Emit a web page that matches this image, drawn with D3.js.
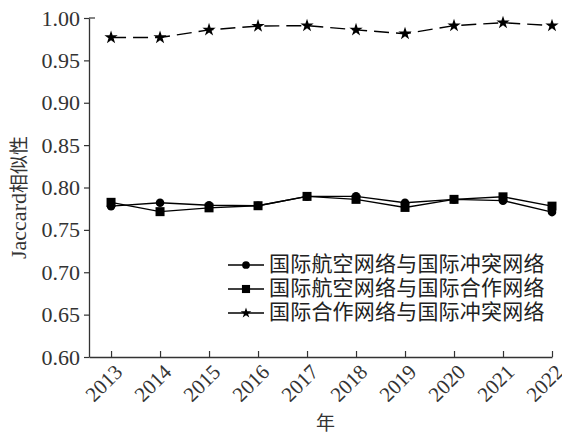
<!DOCTYPE html>
<html>
<head>
<meta charset="utf-8">
<script src="https://cdn.jsdelivr.net/npm/d3@7"></script>
<style>
  body { margin: 0; background: #fff; }
  svg { display: block; }
</style>
</head>
<body>
<svg id="chart" width="562" height="434"></svg>
<script>
// data
const years = [2013, 2014, 2015, 2016, 2017, 2018, 2019, 2020, 2021, 2022];
const airConflict = [0.778, 0.782, 0.779, 0.7785, 0.7895, 0.7895, 0.782, 0.786, 0.7845, 0.771];
const airCoop = [0.7825, 0.7715, 0.776, 0.7785, 0.7895, 0.786, 0.7765, 0.786, 0.789, 0.778];
const coopConflict = [0.977, 0.977, 0.986, 0.9905, 0.991, 0.986, 0.9815, 0.991, 0.9945, 0.991];
const yTicks = [0.60, 0.65, 0.70, 0.75, 0.80, 0.85, 0.90, 0.95, 1.00];
const seriesNames = ["国际航空网络与国际冲突网络", "国际航空网络与国际合作网络", "国际合作网络与国际冲突网络"];

const series = [
  { name: seriesNames[0], values: airConflict, marker: "circle", dash: null },
  { name: seriesNames[1], values: airCoop, marker: "square", dash: null },
  { name: seriesNames[2], values: coopConflict, marker: "star", dash: "15,7" }
];

let svg = d3.select("#chart");
let padding = { top: 18, right: 10, bottom: 77, left: 89 };
let width = +svg.attr("width");
let height = +svg.attr("height");

let xScale = d3.scaleLinear()
                .domain([2012.55, 2022])
                .range([padding.left, 552]);

let yScale = d3.scaleLinear()
                .domain([0.6, 1.0])
                .range([height - padding.bottom, padding.top]);

const serif = "'Liberation Serif', serif";
const cjk = "'Noto Sans CJK SC', sans-serif";

// y axis, ticks pointing out
let yAxis = d3.axisLeft(yScale)
                .tickValues(yTicks)
                .tickFormat(d3.format(".2f"))
                .tickSize(5)
                .tickSizeOuter(0)
                .tickPadding(4);

let gy = svg.append("g")
            .attr("transform", `translate(${padding.left},0)`)
            .call(yAxis)
            .attr("font-family", serif)
            .attr("font-size", 22);

gy.select(".domain").attr("stroke", "#333").attr("stroke-width", 1.3);
gy.selectAll(".tick line").attr("stroke", "#333").attr("stroke-width", 1.2);
gy.selectAll(".tick text")
    .style("font-family", serif)
    .style("font-size", "22px")
    .attr("fill", "#333");

// small stub at top of y axis
svg.append("line")
    .attr("x1", padding.left)
    .attr("x2", padding.left + 6)
    .attr("y1", yScale(1.0))
    .attr("y2", yScale(1.0))
    .attr("stroke", "#333")
    .attr("stroke-width", 1.2);

// x axis, ticks pointing in
let xAxis = d3.axisBottom(xScale)
                .tickValues(years)
                .tickFormat(d3.format("d"))
                .tickSizeInner(-6)
                .tickSizeOuter(0);

let gx = svg.append("g")
            .attr("transform", `translate(0,${height - padding.bottom})`)
            .call(xAxis)
            .attr("font-family", serif)
            .attr("font-size", 21);

gx.select(".domain").attr("stroke", "#333").attr("stroke-width", 1.3);
gx.selectAll(".tick line").attr("stroke", "#333").attr("stroke-width", 1.2);
gx.selectAll(".tick text")
    .style("font-family", serif)
    .style("font-size", "21px")
    .attr("fill", "#333")
    .attr("text-anchor", "end")
    .attr("x", 0)
    .attr("y", 0)
    .attr("dy", "0.35em")
    .attr("transform", "translate(7,11) rotate(-45)");

// axis titles
svg.append("text")
    .attr("x", (padding.left + 552) / 2 + 5)
    .attr("y", 425)
    .attr("text-anchor", "middle")
    .attr("dominant-baseline", "middle")
    .style("font-family", cjk)
    .style("font-size", "19px")
    .attr("fill", "#333")
    .text("年");

svg.append("text")
    .attr("transform", `translate(21,${(yScale(0.6) + yScale(1.0)) / 2 + 10}) rotate(-90)`)
    .attr("text-anchor", "middle")
    .attr("dominant-baseline", "middle")
    .attr("fill", "#333")
    .call(t => {
        t.append("tspan").style("font-family", serif).style("font-size", "22px").text("Jaccard");
        t.append("tspan").style("font-family", cjk).style("font-size", "19px").text("相似性");
    });

// marker drawing
function drawMarker(g, type, x, y, scale) {
    let s = scale || 1;
    if (type === "circle") {
        g.append("circle").attr("cx", x).attr("cy", y).attr("r", 4.3 * s).attr("fill", "#000");
    } else if (type === "square") {
        g.append("rect")
            .attr("x", x - 4.5 * s).attr("y", y - 4.5 * s)
            .attr("width", 9 * s).attr("height", 9 * s)
            .attr("fill", "#000");
    } else {
        g.append("path")
            .attr("d", d3.symbol().type(d3.symbolStar).size(55 * s * s)())
            .attr("transform", `translate(${x},${y})`)
            .attr("fill", "#000");
    }
}

let line = d3.line()
                .x((d, i) => xScale(years[i]))
                .y(d => yScale(d));

series.forEach(s => {
    let g = svg.append("g");
    g.append("path")
        .datum(s.values)
        .attr("d", line)
        .attr("fill", "none")
        .attr("stroke", "#000")
        .attr("stroke-width", 1.4)
        .attr("stroke-dasharray", s.dash);
    s.values.forEach((v, i) => drawMarker(g, s.marker, xScale(years[i]), yScale(v)));
});

// legend
let legend = svg.append("g").attr("transform", "translate(228,265)");
series.forEach((s, i) => {
    let row = legend.append("g").attr("transform", `translate(0,${i * 24})`);
    row.append("line")
        .attr("x1", 0).attr("x2", 36)
        .attr("stroke", "#000").attr("stroke-width", 1.4);
    drawMarker(row, s.marker, 18, 0, s.marker === "star" ? 0.8 : 0.9);
    row.append("text")
        .attr("x", 41)
        .attr("y", 0)
        .attr("dominant-baseline", "middle")
        .style("font-family", cjk)
        .style("font-size", "21px")
        .style("letter-spacing", "0.2px")
        .attr("fill", "#222")
        .text(s.name);
});
</script>
</body>
</html>
